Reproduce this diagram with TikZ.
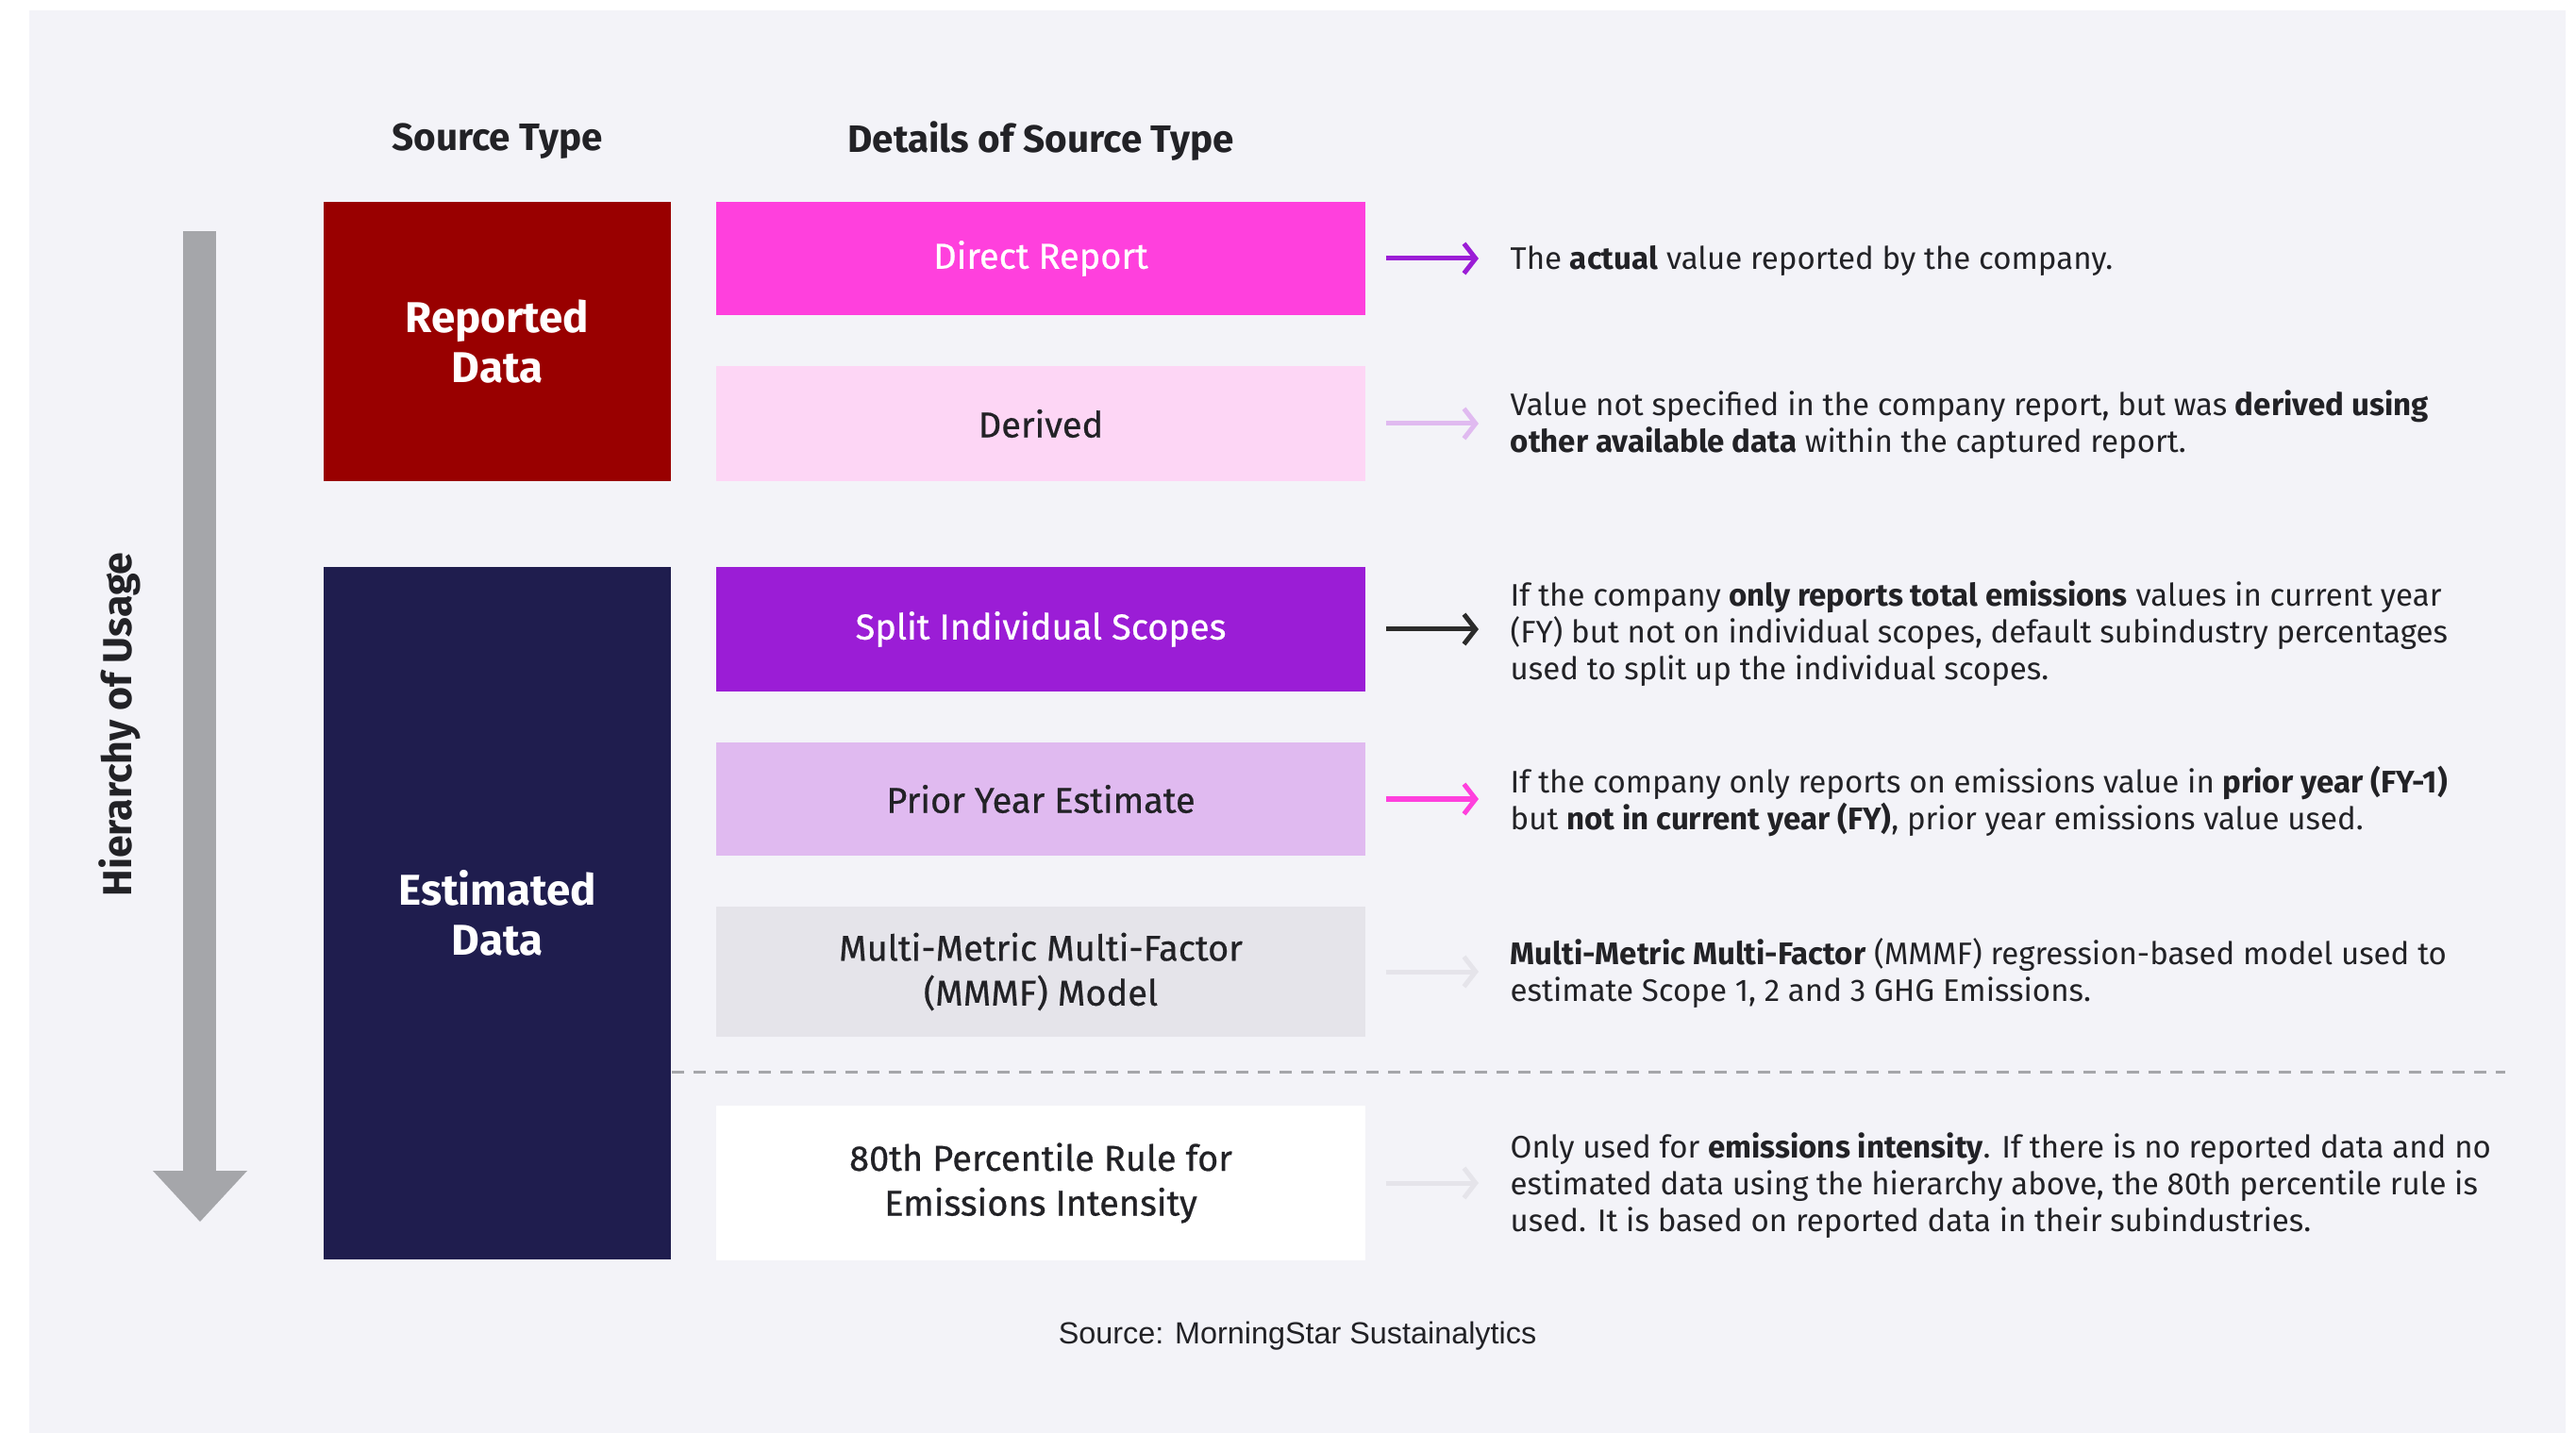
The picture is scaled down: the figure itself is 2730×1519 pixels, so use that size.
\documentclass[tikz,border=0pt]{standalone}
\usepackage{fontspec}
\setmainfont{Fira Sans}
\newfontfamily\srcfont{Liberation Sans}
\usetikzlibrary{arrows.meta}
\definecolor{bgc}{HTML}{F3F3F8}
\definecolor{txt}{HTML}{222226}
\definecolor{repc}{HTML}{990000}
\definecolor{estc}{HTML}{1F1D4E}
\definecolor{directc}{HTML}{FF40DD}
\definecolor{derivedc}{HTML}{FDD6F5}
\definecolor{splitc}{HTML}{9B1DD6}
\definecolor{priorc}{HTML}{E0BAF0}
\definecolor{mmmfc}{HTML}{E5E4EA}
\definecolor{greyarr}{HTML}{A5A6AA}
\definecolor{darkarr}{HTML}{2B2B2B}
\tikzset{
  srcbox/.style={minimum width=3.68cm, inner sep=0pt, align=center, text=white,
     font=\fontsize{13}{15}\selectfont\bfseries},
  detbox/.style={minimum width=6.88cm, inner sep=0pt, align=center,
     font=\fontsize{10.8}{13.5}\selectfont\addfontfeature{FakeBold=0.6}},
  desc/.style={anchor=west, inner sep=0pt, align=left, text=txt,
     font=\fontsize{9.4}{11.1}\selectfont},
  head/.style={text=txt, font=\fontsize{11.5}{14}\selectfont\bfseries},
  link/.style={line width=0.05cm, -{Straight Barb[length=3.5pt,width=9pt,line width=0.05cm]},
     shorten <=0.21cm, shorten >=0.33cm}
}
\begin{document}
\begin{tikzpicture}[x=0.01cm,y=-0.01cm]
\useasboundingbox (0,0) rectangle (2730,1519);
\fill[white] (0,0) rectangle (2730,1519);
\fill[bgc] (31,11) rectangle (2719,1519);

% headers
\node[head] (hsrc) at (527,150) {Source Type};
\node[head] (hdet) at (1103,150) {Details of Source Type};

% source type boxes
\node[srcbox, fill=repc, minimum height=2.96cm] (rep) at (527,362) {Reported\\Data};
\node[srcbox, fill=estc, minimum height=7.34cm] (est) at (527,968) {Estimated\\Data};

% detail boxes
\node[detbox, fill=directc, text=white, minimum height=1.20cm] (direct) at (1103,274) {Direct Report};
\node[detbox, fill=derivedc, text=txt, minimum height=1.22cm] (derived) at (1103,449) {Derived};
\node[detbox, fill=splitc, text=white, minimum height=1.32cm] (split) at (1103,667) {Split Individual Scopes};
\node[detbox, fill=priorc, text=txt, minimum height=1.20cm] (prior) at (1103,847) {Prior Year Estimate};
\node[detbox, fill=mmmfc, text=txt, minimum height=1.38cm] (mmmf) at (1103,1030) {Multi-Metric Multi-Factor\\(MMMF) Model};
\node[detbox, fill=white, text=txt, minimum height=1.64cm] (pct) at (1103,1254) {80th Percentile Rule for\\Emissions Intensity};

% descriptions
\node[desc] (d1) at (1600,276) {The \textbf{actual} value reported by the company.};
\node[desc] (d2) at (1600,450) {Value not specified in the company report, but was \textbf{derived using}\\\textbf{other available data} within the captured report.};
\node[desc] (d3) at (1600,672) {If the company \textbf{only reports total emissions} values in current year\\(FY) but not on individual scopes, default subindustry percentages\\used to split up the individual scopes.};
\node[desc] (d4) at (1600,849) {If the company only reports on emissions value in \textbf{prior year (FY-1)}\\but \textbf{not in current year (FY)}, prior year emissions value used.};
\node[desc] (d5) at (1600,1032) {\textbf{Multi-Metric Multi-Factor} (MMMF) regression-based model used to\\estimate Scope 1, 2 and 3 GHG Emissions.};
\node[desc] (d6) at (1600,1257) {Only used for \textbf{emissions intensity}. If there is no reported data and no\\estimated data using the hierarchy above, the 80th percentile rule is\\used. It is based on reported data in their subindustries.};

% connectors
\draw[link, splitc] (direct.east) -- (direct.east -| d1.west);
\draw[link, priorc] (derived.east) -- (derived.east -| d2.west);
\draw[link, darkarr] (split.east) -- (split.east -| d3.west);
\draw[link, directc] (prior.east) -- (prior.east -| d4.west);
\draw[link, mmmfc] (mmmf.east) -- (mmmf.east -| d5.west);
\draw[link, mmmfc] (pct.east) -- (pct.east -| d6.west);

% dashed separator
\coordinate (dashend) at (2655,1136);
\draw[greyarr, line width=0.03cm, dash pattern=on 0.13cm off 0.10cm] (est.east |- dashend) -- (dashend);

% hierarchy arrow
\fill[greyarr] (194,245) rectangle (229,1242);
\fill[greyarr] (162,1241) -- (262,1241) -- (212,1295) -- cycle;
\node[head, rotate=90, font=\fontsize{12.2}{14}\selectfont\bfseries] (hier) at (127,768) {Hierarchy of Usage};

% source
\node[text=txt, font=\srcfont\fontsize{9.2}{11}\selectfont] (source) at (1375,1416) {Source: MorningStar Sustainalytics};
\end{tikzpicture}
\end{document}
